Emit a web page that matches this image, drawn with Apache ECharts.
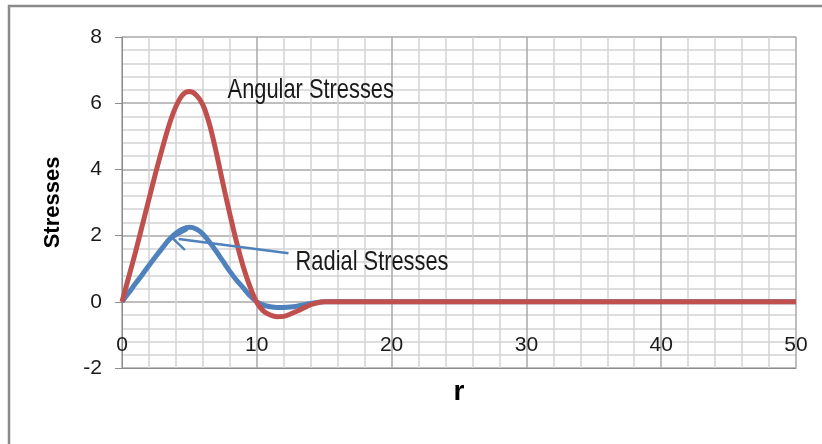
<!DOCTYPE html>
<html>
<head>
<meta charset="utf-8">
<script src="https://cdn.jsdelivr.net/npm/echarts@6/dist/echarts.min.js"></script>
<style>
html,body{margin:0;padding:0;background:#fff;}
#chart{width:822px;height:444px;}
</style>
</head>
<body>
<div id="chart"></div>
<script>
// Data
const rValues = [0,0.5,1,1.5,2,2.5,3,3.5,4,4.5,5,5.5,6,6.5,7,7.5,8,8.5,9,9.5,10,10.5,11,11.5,12,12.5,13,13.5,14,14.5,15,16,17,20,25,30,35,40,45,50];
const radialStresses  = [0,0.27,0.55,0.82,1.1,1.37,1.63,1.88,2.07,2.2,2.25,2.2,2.05,1.8,1.52,1.22,0.92,0.65,0.42,0.18,0.0,-0.1,-0.15,-0.17,-0.17,-0.16,-0.13,-0.09,-0.05,-0.02,0,0,0,0,0,0,0,0,0,0];
const angularStresses = [0,0.75,1.5,2.3,3.1,3.9,4.65,5.35,5.9,6.25,6.35,6.25,5.95,5.35,4.5,3.55,2.65,1.8,1.05,0.45,-0.02,-0.28,-0.4,-0.45,-0.44,-0.37,-0.28,-0.18,-0.09,-0.03,0,0,0,0,0,0,0,0,0,0];
const seriesNames = ['Radial Stresses','Angular Stresses'];
const angularLabelPos = [14.0, 6.4];
const radialLabelPos = [18.55, 1.18];
const radialArrow = [[12.35, 1.47], [4.2, 1.9]];
const xTitle = 'r';
const yTitle = 'Stresses';

const FONT = "'Liberation Sans', Arial, sans-serif";
const chart = echarts.init(document.getElementById('chart'), null, {renderer:'canvas'});

const zip = (xs, ys) => xs.map((x,i)=>[x, ys[i]]);

chart.setOption({
  animation:false,
  backgroundColor:'#ffffff',
  grid:{left:122, right:26, top:37, bottom:76, outerBoundsMode:'none', containLabel:false},
  xAxis:{
    type:'value', min:0, max:50, interval:10,
    name:xTitle, nameLocation:'middle', nameGap:10,
    nameTextStyle:{fontFamily:FONT, fontWeight:'bold', fontSize:28, color:'#000'},
    axisLine:{show:true, onZero:false, lineStyle:{color:'#8c8c8c', width:1}},
    axisTick:{show:false},
    axisLabel:{fontFamily:FONT, fontSize:21, color:'#1a1a1a', margin:-33},
    splitLine:{show:true, lineStyle:{color:'#a8a8a8', width:1.5}},
    minorTick:{show:false, splitNumber:5},
    minorSplitLine:{show:true, lineStyle:{color:'#d4d4d4', width:1.5}}
  },
  yAxis:{
    type:'value', min:-2, max:8, interval:2,
    name:yTitle, nameLocation:'middle', nameGap:58, nameRotate:90,
    nameTextStyle:{fontFamily:FONT, fontWeight:'bold', fontSize:22, color:'#000'},
    axisLine:{show:true, lineStyle:{color:'#8c8c8c', width:1}},
    axisTick:{show:true, length:7, lineStyle:{color:'#8c8c8c'}},
    axisLabel:{fontFamily:FONT, fontSize:21, color:'#1a1a1a', margin:20},
    splitLine:{show:true, lineStyle:{color:'#a8a8a8', width:1.5}},
    minorTick:{show:false, splitNumber:5},
    minorSplitLine:{show:true, lineStyle:{color:'#d4d4d4', width:1.5}}
  },
  series:[
    {
      name:seriesNames[0], type:'line', data:zip(rValues, radialStresses),
      smooth:0.3, showSymbol:false, symbol:'none',
      lineStyle:{color:'#4F81BD', width:5}, z:3
    },
    {
      name:seriesNames[1], type:'line', data:zip(rValues, angularStresses),
      smooth:0.3, showSymbol:false, symbol:'none',
      lineStyle:{color:'#C0504D', width:5}, z:4,
      markLine:{
        silent:true, animation:false,
        symbol:['none','path://M5,0 L10,8 L9.2,8.8 L5,2.2 L0.8,8.8 L0,8 Z'],
        symbolSize:[22,17],
        lineStyle:{color:'#4F81BD', width:2.5, type:'solid'},
        label:{show:false},
        data:[[{coord:radialArrow[0]},{coord:radialArrow[1]}]]
      }
    }
  ]
});

// Annotation texts, placed from data coordinates through the chart's own scales
const pA = chart.convertToPixel({gridIndex:0}, angularLabelPos);
const pR = chart.convertToPixel({gridIndex:0}, radialLabelPos);
const txt = (p, s) => ({
  type:'text', x:p[0], y:p[1], scaleX:0.78, scaleY:1, silent:true, z:10,
  style:{text:s, fontFamily:FONT, fontSize:28, fill:'#1a1a1a', align:'center', verticalAlign:'middle'}
});
chart.setOption({
  graphic:[
    {type:'rect', shape:{x:9, y:6, width:900, height:600},
     style:{fill:'none', stroke:'#8a8a8a', lineWidth:2.5}, silent:true, z:-1},
    txt(pA, seriesNames[1]),
    txt(pR, seriesNames[0])
  ]
});
</script>
</body>
</html>
